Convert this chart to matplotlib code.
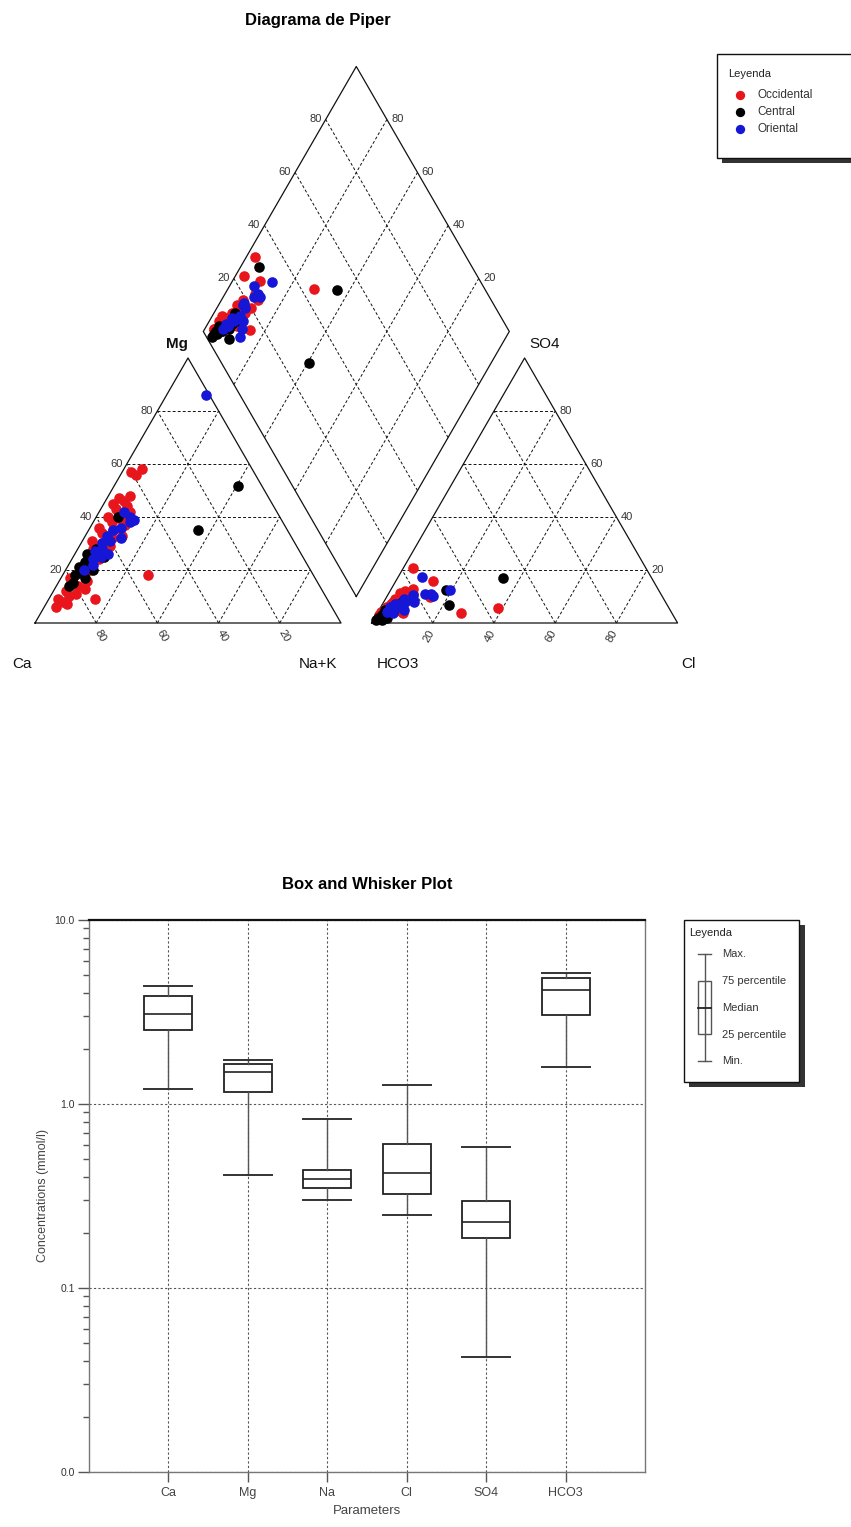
import matplotlib
matplotlib.use("Agg")
import matplotlib.pyplot as plt
import numpy as np
from matplotlib.patches import Rectangle
from matplotlib.ticker import NullFormatter, LogLocator

plt.rcParams['font.family'] = ['Liberation Sans', 'DejaVu Sans']

# ---------------- Piper data (% meq/l) ----------------
groups = ['Occidental', 'Central', 'Oriental']
group_colors = ['#e8161c', '#000000', '#1616d6']

occ_mg = [7, 6, 8, 9, 9, 10, 11, 12, 13, 14, 15, 16, 17, 18, 20, 22, 24, 26, 28, 29, 30,
          31, 32, 33, 34, 35, 36, 37, 38, 39, 40, 41, 42, 43, 44, 45, 46, 47, 48, 56, 57, 58]
occ_nak = [7, 4, 5, 3, 15, 6, 8, 4, 10, 7, 5, 9, 3, 28, 8, 5, 9, 8, 5, 10, 7,
           3, 9, 12, 5, 8, 3, 11, 6, 9, 4, 7, 10, 5, 8, 3, 6, 4, 7, 5, 3, 6]
occ_so4 = [4, 2, 3, 2, 9.4, 5, 6, 3, 4, 8, 5, 7, 2.3, 5.7, 11, 6, 10, 9, 4, 10, 11,
           20.8, 16, 9.8, 7, 11.3, 3.8, 13, 8, 3.8, 6, 7, 12, 4, 9, 5, 10, 6, 8, 4, 5, 3]
occ_cl = [4, 1, 3, 2, 6, 3, 4, 1, 8, 4, 2, 5, 1.6, 38.5, 4, 3, 6, 6, 2, 14, 8,
          3.1, 12, 14.2, 3, 3.6, 27.3, 7, 5, 8.4, 2, 6, 5, 1, 3, 4, 6, 2, 3, 4, 2, 3]

cen_mg = [15, 17, 18, 19, 20, 21, 22, 23, 24, 25, 26, 27, 28, 40, 51.7, 35.1, 14]
cen_nak = [5, 8, 4, 6, 9, 4, 7, 5, 6, 10, 4, 8, 6, 7, 40.5, 35.7, 4]
cen_so4 = [2, 4, 1, 3, 6, 2, 5, 3, 12.4, 4, 1, 6, 5, 8, 6.8, 17, 2]
cen_cl = [2, 5, 1, 3, 7, 1, 4, 2, 18, 3, 3, 5, 2, 6, 21.9, 34.4, 4]

ori_mg = [20, 22, 24, 25, 27, 28, 30, 31, 33, 35, 36, 38, 39, 42, 40, 86, 26, 32]
ori_nak = [6, 8, 7, 9, 6, 8, 7, 9, 7, 8, 10, 12, 13, 8, 11, 13, 11, 12]
ori_so4 = [3.8, 6, 5, 8, 4, 10.6, 7, 9, 6, 10, 11, 17.3, 12.4, 8, 9, 7, 11, 5]
ori_cl = [5.1, 6, 4, 7, 3, 8.2, 5, 9, 3, 15, 12, 7.8, 19.4, 10, 6, 4, 14, 8]

grid_levels = [20, 40, 60, 80]

# ---------------- Box plot data (mmol/l) ----------------
params = ['Ca', 'Mg', 'Na', 'Cl', 'SO4', 'HCO3']
box_min = [1.20, 0.41, 0.30, 0.25, 0.042, 1.58]
box_q1 = [2.52, 1.16, 0.35, 0.324, 0.188, 3.04]
box_med = [3.08, 1.49, 0.39, 0.422, 0.229, 4.16]
box_q3 = [3.86, 1.64, 0.436, 0.608, 0.297, 4.82]
box_max = [4.40, 1.73, 0.83, 1.27, 0.585, 5.17]

W, H = 851, 1527
fig = plt.figure(figsize=(W / 100, H / 100), dpi=100)

# ---------------- Piper diagram ----------------
S3 = np.sqrt(3) / 2
GAP = 0.1
OX = 1 + GAP
BX, BY = 1 + GAP / 2, GAP * S3
PX = 306.0  # pixels per unit side

ax_p = fig.add_axes([0, 1 - 700 / H, 1, 700 / H])
ax_p.set_xlim(-35 / PX, (W - 35) / PX)
ax_p.set_ylim((623 - 700) / PX, 623 / PX)
ax_p.axis('off')


def cation_xy(mg, nak):
    mg = np.asarray(mg, float) / 100
    nak = np.asarray(nak, float) / 100
    return nak + 0.5 * mg, S3 * mg


def anion_xy(so4, cl):
    so4 = np.asarray(so4, float) / 100
    cl = np.asarray(cl, float) / 100
    return OX + cl + 0.5 * so4, S3 * so4


def diamond_pt(a, s):
    return BX + 0.5 * (s - a), BY + S3 * (a + s)


def diamond_xy(nak, so4, cl):
    a = 1 - np.asarray(nak, float) / 100
    s = (np.asarray(so4, float) + np.asarray(cl, float)) / 100
    return diamond_pt(a, s)


gkw = dict(color='#111111', lw=0.7, ls=(0, (3, 2.2)), zorder=1)
okw = dict(color='#111111', lw=0.9, zorder=2)

# cation triangle
ax_p.plot([0, 1, 0.5, 0], [0, 0, S3, 0], **okw)
for lv in grid_levels:
    f = lv / 100
    ax_p.plot([0.5 * f, 1 - 0.5 * f], [S3 * f, S3 * f], **gkw)
    ax_p.plot([f, f + 0.5 * (1 - f)], [0, S3 * (1 - f)], **gkw)
    ax_p.plot([1 - f, 0.5 * (1 - f)], [0, S3 * (1 - f)], **gkw)
# anion triangle
ax_p.plot([OX, OX + 1, OX + 0.5, OX], [0, 0, S3, 0], **okw)
for lv in grid_levels:
    f = lv / 100
    ax_p.plot([OX + 0.5 * f, OX + 1 - 0.5 * f], [S3 * f, S3 * f], **gkw)
    ax_p.plot([OX + f, OX + f + 0.5 * (1 - f)], [0, S3 * (1 - f)], **gkw)
    ax_p.plot([OX + 1 - f, OX + 0.5 * (1 - f)], [0, S3 * (1 - f)], **gkw)
# diamond
dx, dy = diamond_pt(np.array([0, 1, 1, 0, 0]), np.array([0, 0, 1, 1, 0]))
ax_p.plot(dx, dy, **okw)
for lv in grid_levels:
    f = lv / 100
    x1, y1 = diamond_pt(np.array([0, 1]), np.array([f, f]))
    ax_p.plot(x1, y1, **gkw)
    x2, y2 = diamond_pt(np.array([f, f]), np.array([0, 1]))
    ax_p.plot(x2, y2, **gkw)

# scale labels
tkw = dict(fontsize=8, color='#333333')
off = 0.014
for lv in grid_levels:
    f = lv / 100
    # cation left edge (Mg)
    ax_p.text(0.5 * f - off, S3 * f, str(lv), ha='right', va='center', **tkw)
    # cation base (Ca)
    ax_p.text(1 - f + 0.014, -0.042, str(lv), ha='center', va='center', rotation=-60, **tkw)
    # anion right edge (SO4)
    ax_p.text(OX + 1 - 0.5 * f + off, S3 * f, str(lv), ha='left', va='center', **tkw)
    # anion base (Cl)
    ax_p.text(OX + f - 0.014, -0.042, str(lv), ha='center', va='center', rotation=60, **tkw)
    # diamond upper-left edge (SO4+Cl)
    xl, yl = diamond_pt(1.0, f)
    ax_p.text(xl - off, yl, str(lv), ha='right', va='center', **tkw)
    # diamond upper-right edge (Ca+Mg)
    xr, yr = diamond_pt(f, 1.0)
    ax_p.text(xr + off, yr, str(lv), ha='left', va='center', **tkw)

ckw = dict(fontsize=11, color='#111111', ha='center', va='center')
ax_p.text(0.464, 0.912, 'Mg', fontweight='bold', **ckw)
ax_p.text(-0.042, -0.134, 'Ca', **ckw)
ax_p.text(0.925, -0.134, 'Na+K', **ckw)
ax_p.text(1.186, -0.134, 'HCO3', **ckw)
ax_p.text(2.134, -0.134, 'Cl', **ckw)
ax_p.text(1.667, 0.912, 'SO4', **ckw)

# data points
data = [(occ_mg, occ_nak, occ_so4, occ_cl),
        (cen_mg, cen_nak, cen_so4, cen_cl),
        (ori_mg, ori_nak, ori_so4, ori_cl)]
for (mg, nak, so4, cl), col, name in zip(data, group_colors, groups):
    cx, cy = cation_xy(mg, nak)
    axx, ayy = anion_xy(so4, cl)
    ddx, ddy = diamond_xy(nak, so4, cl)
    ax_p.scatter(cx, cy, s=58, color=col, linewidths=0, zorder=3)
    ax_p.scatter(axx, ayy, s=58, color=col, linewidths=0, zorder=3)
    ax_p.scatter(ddx, ddy, s=58, color=col, linewidths=0, zorder=3)

# ---------------- Box plot ----------------
L, R, T, B = 88.7, 645.2, 920.0, 1472.0
ax_b = fig.add_axes([L / W, 1 - B / H, (R - L) / W, (B - T) / H])
stats = []
for i, p in enumerate(params):
    stats.append(dict(label=p, med=box_med[i], q1=box_q1[i], q3=box_q3[i],
                      whislo=box_min[i], whishi=box_max[i], fliers=[]))
pos = np.arange(1, len(params) + 1)
ax_b.bxp(stats, positions=pos, widths=0.6, capwidths=0.6, showfliers=False,
         patch_artist=True,
         boxprops=dict(facecolor='white', edgecolor='#222222', lw=1.3),
         whiskerprops=dict(color='#555555', lw=1.0),
         capprops=dict(color='#333333', lw=1.4),
         medianprops=dict(color='#222222', lw=1.2),
         zorder=3)
ax_b.set_yscale('log')
ax_b.set_ylim(0.01, 10)
ax_b.set_xlim(0, len(params) + 1)
ax_b.set_xticks(pos)
ax_b.set_xticklabels(params)
ax_b.set_yticks([0.01, 0.1, 1, 10])
ax_b.set_yticklabels(['0.0', '0.1', '1.0', '10.0'])
ax_b.yaxis.set_minor_locator(LogLocator(base=10, subs=np.arange(2, 10)))
ax_b.yaxis.set_minor_formatter(NullFormatter())
ax_b.tick_params(axis='y', which='major', length=8, width=1, color='#555555',
                 labelsize=7.5, labelcolor='#333333', pad=2)
ax_b.tick_params(axis='y', which='minor', length=4, width=1, color='#555555')
ax_b.tick_params(axis='x', which='major', length=7, width=1, color='#555555',
                 labelsize=9, labelcolor='#444444', pad=4)
ax_b.grid(True, which='major', axis='both', color='#555555', lw=0.8, ls=(0, (2, 2)))
ax_b.set_axisbelow(True)
for side in ['left', 'right', 'bottom']:
    ax_b.spines[side].set_color('#777777')
    ax_b.spines[side].set_linewidth(1.0)
ax_b.spines['top'].set_color('#111111')
ax_b.spines['top'].set_linewidth(1.6)
ax_b.set_ylabel('Concentrations (mmol/l)', fontsize=9, color='#444444', labelpad=4)
ax_b.set_xlabel('Parameters', fontsize=9.5, color='#444444', labelpad=4)
ax_b.set_title('Box and Whisker Plot', fontsize=12, fontweight='bold', pad=22)

# ---------------- Overlay (titles, legends) ----------------
ax_o = fig.add_axes([0, 0, 1, 1], zorder=10)
ax_o.set_xlim(0, W)
ax_o.set_ylim(H, 0)
ax_o.axis('off')
ax_o.patch.set_alpha(0)

ax_o.text(318, 21, 'Diagrama de Piper', ha='center', va='center', fontsize=12,
          fontweight='bold')

# Piper legend
ax_o.add_patch(Rectangle((722, 59), 150, 104, facecolor='#333333', edgecolor='none'))
ax_o.add_patch(Rectangle((717, 54), 150, 104, facecolor='white', edgecolor='#111111', lw=1.0))
ax_o.text(728, 74, 'Leyenda', ha='left', va='center', fontsize=8, color='#222222')
for yy, col, name in zip([95, 112, 129], group_colors, groups):
    ax_o.scatter([740], [yy], s=45, color=col, linewidths=0)
    ax_o.text(757, yy, name, ha='left', va='center', fontsize=8.5, color='#333333')

# Box legend
ax_o.add_patch(Rectangle((689, 925), 116, 162, facecolor='#333333', edgecolor='none'))
ax_o.add_patch(Rectangle((684, 920), 115, 162, facecolor='white', edgecolor='#111111', lw=1.0))
ax_o.text(689, 933, 'Leyenda', ha='left', va='center', fontsize=8, color='#222222')
ax_o.plot([704.5, 704.5], [954, 1061], color='#555555', lw=1.0)
ax_o.plot([698, 711], [954, 954], color='#555555', lw=1.0)
ax_o.plot([698, 711], [1061, 1061], color='#555555', lw=1.0)
ax_o.add_patch(Rectangle((698, 981), 13, 53, facecolor='white', edgecolor='#555555', lw=1.0))
ax_o.plot([698, 711], [1008, 1008], color='#222222', lw=1.3)
for yy, lab in zip([954, 981, 1008, 1035, 1061],
                   ['Max.', '75 percentile', 'Median', '25 percentile', 'Min.']):
    ax_o.text(722, yy, lab, ha='left', va='center', fontsize=8, color='#333333')

fig.savefig('out.png', dpi=100)
